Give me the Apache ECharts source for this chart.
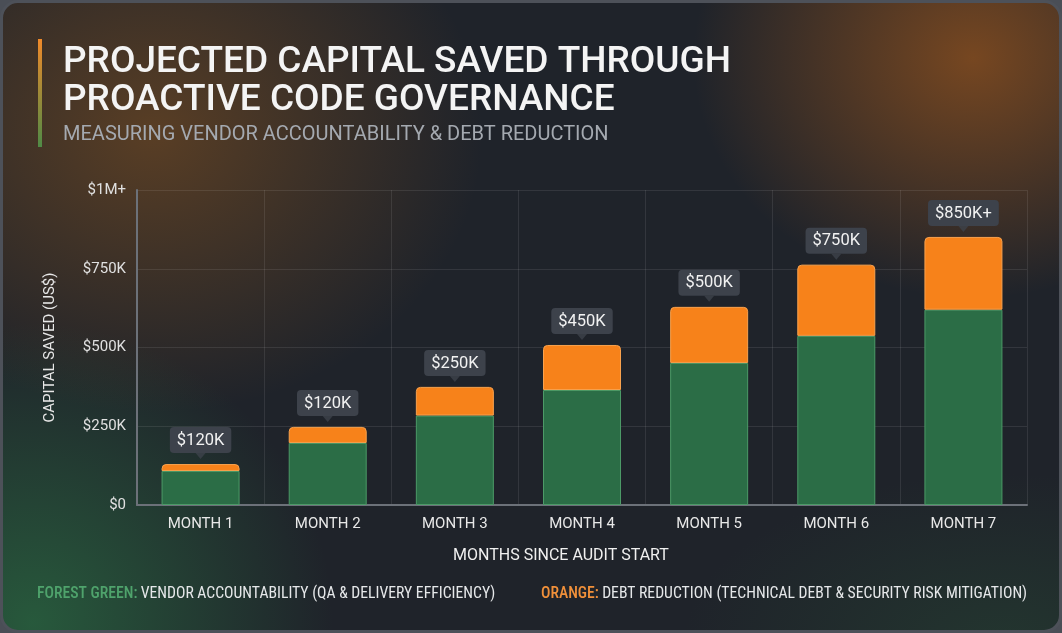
<!DOCTYPE html>
<html>
<head>
<meta charset="utf-8">
<script src="https://cdn.jsdelivr.net/npm/echarts@6/dist/echarts.min.js"></script>
<style>
  html, body { margin: 0; padding: 0; background: #4a4e56; }
  #main {
    width: 1062px; height: 633px; box-sizing: border-box;
    border: 3px solid #4d5159; border-radius: 18px; overflow: hidden;
    background:
      radial-gradient(ellipse 280px 240px at 970px 55px, rgba(190,100,25,0.55), rgba(190,100,25,0) 100%),
      radial-gradient(ellipse 330px 280px at 150px 130px, rgba(160,95,30,0.45), rgba(160,95,30,0) 100%),
      radial-gradient(ellipse 300px 300px at 30px 620px, rgba(45,125,72,0.60), rgba(45,125,72,0) 100%),
      radial-gradient(ellipse 320px 170px at 1000px 640px, rgba(45,100,60,0.28), rgba(45,100,60,0) 100%),
      #1f232a;
  }
</style>
</head>
<body>
<div id="main"></div>
<script>
var months = ['MONTH 1', 'MONTH 2', 'MONTH 3', 'MONTH 4', 'MONTH 5', 'MONTH 6', 'MONTH 7'];
var vendorAccountability = [108000, 197000, 284000, 365000, 451000, 537000, 620000];
var debtReduction = [22000, 51000, 91000, 143000, 178000, 226000, 231000];
var callouts = ['$120K', '$120K', '$250K', '$450K', '$500K', '$750K', '$850K+'];
var yTicks = ['$0', '$250K', '$500K', '$750K', '$1M+'];

var totals = vendorAccountability.map(function (v, i) { return v + debtReduction[i]; });

var myChart = echarts.init(document.getElementById('main'));

var font = 'Roboto, "Noto Sans", sans-serif';
var narrow = '"Liberation Sans Narrow", "Roboto Condensed", Roboto, sans-serif';

var option = {
    animation: false,
    textStyle: { fontFamily: font },
    grid: { left: 134, right: 32, top: 187, bottom: 125 },
    graphic: [
        {
            type: 'rect', left: 35, top: 36,
            shape: { width: 4, height: 108 },
            style: {
                fill: new echarts.graphic.LinearGradient(0, 0, 0, 1, [
                    { offset: 0, color: '#f08a2a' },
                    { offset: 1, color: '#4f8a46' }
                ])
            }
        },
        {
            type: 'text', left: 60, top: 41,
            style: { text: 'PROJECTED CAPITAL SAVED THROUGH', font: '500 37px ' + font, fill: '#f4f4f4' }
        },
        {
            type: 'text', left: 60, top: 79,
            style: { text: 'PROACTIVE CODE GOVERNANCE', font: '500 37px ' + font, fill: '#f4f4f4' }
        },
        {
            type: 'text', left: 60, top: 122,
            style: { text: 'MEASURING VENDOR ACCOUNTABILITY & DEBT REDUCTION', font: '400 20px ' + font, fill: '#a4a9b0' }
        },
        {
            type: 'text', x: 558, y: 553,
            style: {
                text: 'MONTHS SINCE AUDIT START', font: '400 16px ' + font, fill: '#f0f0f0',
                align: 'center', verticalAlign: 'middle'
            }
        },
        {
            type: 'text', left: 34, top: 583,
            style: {
                text: '{g|FOREST GREEN:} {w|VENDOR ACCOUNTABILITY (QA & DELIVERY EFFICIENCY)}',
                rich: {
                    g: { fontFamily: narrow, fontSize: 15.7, fill: '#4fa36c', fontWeight: 500 },
                    w: { fontFamily: narrow, fontSize: 15.7, fill: '#e6e8ea' }
                }
            }
        },
        {
            type: 'text', left: 538, top: 583,
            style: {
                text: '{o|ORANGE:} {w|DEBT REDUCTION (TECHNICAL DEBT & SECURITY RISK MITIGATION)}',
                rich: {
                    o: { fontFamily: narrow, fontSize: 15.7, fill: '#f0903a', fontWeight: 500 },
                    w: { fontFamily: narrow, fontSize: 15.7, fill: '#e6e8ea' }
                }
            }
        }
    ],
    xAxis: {
        type: 'category',
        data: months,
        axisLine: { lineStyle: { color: '#6c7179', width: 2 } },
        axisTick: { show: false },
        axisLabel: { color: '#e8e8e8', fontSize: 15, margin: 12 },
        splitLine: { show: true, lineStyle: { color: 'rgba(255,255,255,0.09)' } }
    },
    yAxis: {
        type: 'value',
        min: 0,
        max: 1000000,
        interval: 250000,
        name: 'CAPITAL SAVED (US$)',
        nameLocation: 'middle',
        nameRotate: 90,
        nameGap: 79,
        nameTextStyle: { color: '#e8e8e8', fontSize: 15 },
        axisLine: { show: true, lineStyle: { color: '#6c7179', width: 2 } },
        axisTick: { show: false },
        axisLabel: {
            color: '#e0e0e0', fontSize: 15, margin: 11,
            formatter: function (v) { return yTicks[Math.round(v / 250000)]; }
        },
        splitLine: { lineStyle: { color: 'rgba(255,255,255,0.09)' } }
    },
    series: [
        {
            name: 'Vendor Accountability',
            type: 'bar',
            stack: 'total',
            barWidth: 78,
            data: vendorAccountability,
            itemStyle: { color: '#2b6d46', borderColor: '#4c9a67', borderWidth: 1 }
        },
        {
            name: 'Debt Reduction',
            type: 'bar',
            stack: 'total',
            barWidth: 78,
            data: debtReduction,
            itemStyle: { color: '#f7821a', borderColor: '#f9a24e', borderWidth: 1, borderRadius: [4, 4, 0, 0] },
            label: {
                show: true,
                position: 'top',
                distance: 11,
                formatter: function (p) { return callouts[p.dataIndex]; },
                color: '#f2f2f2',
                fontSize: 16.5,
                backgroundColor: '#3d424b',
                borderRadius: 4,
                padding: [5, 7, 4, 7]
            }
        },
        {
            type: 'scatter',
            data: totals,
            symbol: 'triangle',
            symbolRotate: 180,
            symbolSize: [10, 6],
            symbolOffset: [0, -8],
            itemStyle: { color: '#3d424b' },
            z: 5,
            silent: true
        }
    ]
};
myChart.setOption(option);
</script>
</body>
</html>
